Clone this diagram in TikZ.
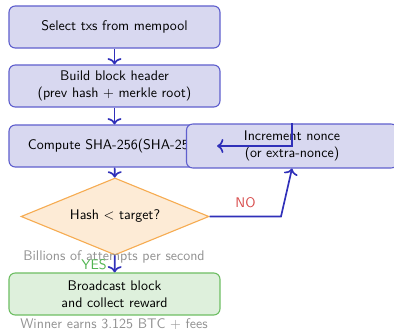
\documentclass[tikz,border=0pt]{standalone}
\usetikzlibrary{shapes.geometric, arrows.meta}
\renewcommand{\familydefault}{\sfdefault}
\definecolor{boxfill}{RGB}{216,216,240}
\definecolor{boxline}{RGB}{95,95,205}
\definecolor{flowblue}{RGB}{48,48,185}
\definecolor{decfill}{RGB}{253,235,214}
\definecolor{decline}{RGB}{246,172,82}
\definecolor{okfill}{RGB}{222,240,220}
\definecolor{okline}{RGB}{110,190,100}
\definecolor{notegray}{RGB}{145,145,145}
\definecolor{yesgreen}{RGB}{80,180,80}
\definecolor{nored}{RGB}{215,75,75}
\tikzset{
  stepbox/.style={draw=boxline, fill=boxfill, line width=0.8pt, rounded corners=4.5pt,
    minimum width=151.2pt, minimum height=30.1pt, align=center, inner sep=3pt},
  decision/.style={diamond, draw=decline, fill=decfill, line width=0.8pt, shape aspect=2.44,
    minimum width=134.7pt, minimum height=55.2pt, inner sep=0pt},
  donebox/.style={stepbox, draw=okline, fill=okfill},
  flow/.style={-{To[length=4.5pt, width=10pt]}, draw=flowblue, line width=1.2pt},
  note/.style={text=notegray}
}
\begin{document}
\begin{tikzpicture}[x=0.7165pt, y=-0.7165pt]
\useasboundingbox (0,0) rectangle (394,329);

\node[stepbox] (select) at (114.5,27) {Select txs from mempool};
\node[stepbox] (header) at (114.5,86) {Build block header\\(prev hash + merkle root)};
\node[stepbox, text width=124pt, inner xsep=13.6pt, align=left] (hash) at (114.5,146)
  {\mbox{Compute SHA-256(SHA-256(header))}};
\node[stepbox, minimum height=31.5pt] (nonce) at (292,146) {Increment nonce\\(or extra-nonce)};
\node[decision] (check) at (115,216.5) {Hash $<$ target?};
\node[note] (rate) at (114,257) {Billions of attempts per second};
\node[donebox] (reward) at (114.5,294) {Broadcast block\\and collect reward};
\node[note] (prize) at (114,324) {Winner earns 3.125 BTC + fees};

\coordinate (bend) at (281,216.5);

\draw[flow] (select) -- (header);
\draw[flow] (header) -- (hash);
\draw[flow] (hash) -- (check);
\draw[flow] (check) -- (reward);
\node[text=yesgreen] (yes) at (94,265) {YES};
\draw[flow] (check.east) -- (bend) -- (nonce.south);
\node[text=nored] (no) at (245.5,203) {NO};
\draw[flow, shorten >=-2.5pt] (nonce.north) |- (hash.east);
\end{tikzpicture}
\end{document}
